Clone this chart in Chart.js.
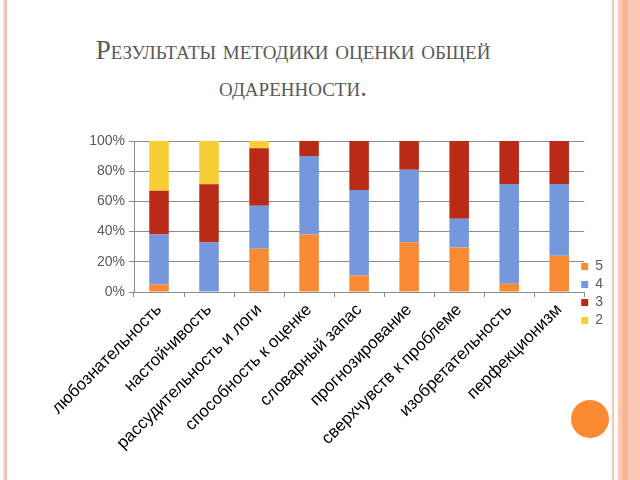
<!DOCTYPE html>
<html>
<head>
<meta charset="utf-8">
<script src="https://cdn.jsdelivr.net/npm/chart.js@4"></script>
<style>
  html, body { margin: 0; padding: 0; background: #fff; }
  #slide { position: relative; width: 640px; height: 480px; overflow: hidden; background: #fff; }
  .line { position: absolute; top: 0; height: 480px; }
  #title {
    position: absolute; left: 60px; width: 466px; top: 32px;
    text-align: center; font-family: "Liberation Serif", "DejaVu Serif", serif;
    font-variant: small-caps; font-size: 27px; line-height: 37px; color: #5a5a5a;
  }
  #dot { position: absolute; left: 571px; top: 400px; width: 38px; height: 38px; border-radius: 50%; background: #f98a32; }
  #wrap { position: absolute; left: 10px; top: 125px; width: 610px; height: 335px; }
</style>
</head>
<body>
<div id="slide">
  <div class="line" style="left:3px;width:2px;background:#f8d9c6"></div>
  <div class="line" style="left:5px;width:2px;background:#f6b8b4"></div>
  <div class="line" style="left:612px;width:1px;background:#f6cdbd"></div>
  <div class="line" style="left:613px;width:1px;background:#f4c0bc"></div>
  <div class="line" style="left:618px;width:22px;background:#fcc6b2"></div>
  <div class="line" style="left:622px;width:6px;background:#f7b597"></div>
  <div id="title">Результаты методики оценки общей<br>одаренности.</div>
  <div id="dot"></div>
  <div id="wrap"><canvas id="c"></canvas></div>
</div>
<script>
// abilities assessed (x axis)
const categories = [
  'любознательность', 'настойчивость', 'рассудительность и логи',
  'способность к оценке', 'словарный запас', 'прогнозирование',
  'сверхчувств к проблеме', 'изобретательность', 'перфекционизм'
];

// share of pupils by grade, % (each column sums to 100)
const grade5 = [5, 0, 28.6, 38, 11, 33, 29.5, 5.5, 24];
const grade4 = [33, 33, 28.6, 52, 56.5, 48, 19, 66, 47.5];
const grade3 = [29, 38.4, 38, 10, 32.5, 19, 51.5, 28.5, 28.5];
const grade2 = [33, 28.6, 4.8, 0, 0, 0, 0, 0, 0];

const yTicks = [0, 20, 40, 60, 80, 100];

const COLORS = { g5: '#f88a35', g4: '#7598dc', g3: '#b92b17', g2: '#f5cf35' };
const GRID = '#8c8c8c';
const LABEL = '#595959';

// pull the legend a bit closer to the plot, like the slide has it
const legendNudge = {
  id: 'legendNudge',
  afterLayout: function(chart) {
    var lg = chart.legend;
    lg.left -= 7; lg.right -= 7;
    lg.top -= 7; lg.bottom -= 7;
  }
};

new Chart(document.getElementById('c'), {
  type: 'bar',
  data: {
    labels: categories,
    datasets: [
      { label: '5', data: grade5, backgroundColor: COLORS.g5 },
      { label: '4', data: grade4, backgroundColor: COLORS.g4 },
      { label: '3', data: grade3, backgroundColor: COLORS.g3 },
      { label: '2', data: grade2, backgroundColor: COLORS.g2 }
    ]
  },
  plugins: [legendNudge],
  options: {
    responsive: true, maintainAspectRatio: false, animation: false,
    datasets: { bar: { categoryPercentage: 1, barPercentage: 0.39 } },
    layout: { padding: { top: 16, right: 0, left: 0, bottom: 0 } },
    scales: {
      x: {
        stacked: true,
        afterFit: function(axis) { axis.height = 168; },
        grid: { display: true, drawOnChartArea: false, drawTicks: true, tickLength: 5, color: GRID, offset: true },
        border: { color: GRID },
        ticks: {
          color: '#000', autoSkip: false, minRotation: 45, maxRotation: 45,
          font: { family: 'Liberation Sans, Arial', size: 17 }
        }
      },
      y: {
        stacked: true, min: 0, max: 100,
        afterFit: function(axis) { axis.width = 124; },
        afterBuildTicks: function(axis) { axis.ticks = yTicks.map(function(v) { return { value: v }; }); },
        grid: { color: GRID, tickLength: 5 },
        border: { color: GRID },
        ticks: {
          color: LABEL, padding: 4,
          font: { family: 'Liberation Sans, Arial', size: 14 },
          callback: function(v) { return v + '%'; }
        }
      }
    },
    plugins: {
      tooltip: { enabled: false },
      legend: {
        position: 'right',
        labels: {
          color: LABEL, boxWidth: 7, boxHeight: 7, padding: 4,
          font: { family: 'Liberation Sans, Arial', size: 14 }
        }
      }
    }
  }
});
</script>
</body>
</html>
